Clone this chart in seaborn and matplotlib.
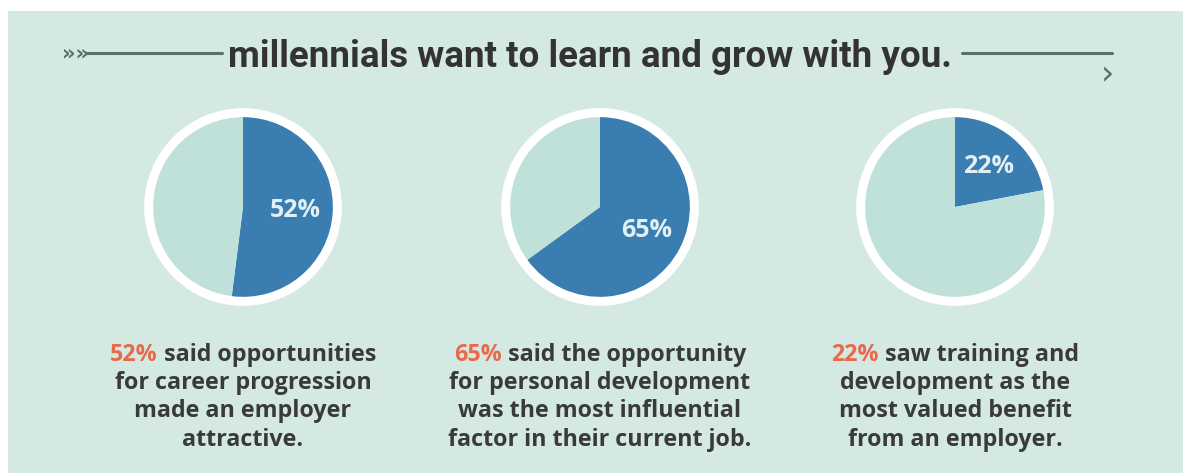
import matplotlib
matplotlib.use("Agg")
import matplotlib.pyplot as plt
from matplotlib.patches import Circle, Rectangle
from matplotlib.lines import Line2D
from matplotlib import font_manager
import seaborn as sns

# Survey results
shares = [52, 65, 22]
pct_labels = ["52%", "65%", "22%"]
captions = [
    ["said opportunities", "for career progression", "made an employer", "attractive."],
    ["said the opportunity", "for personal development", "was the most influential", "factor in their current job."],
    ["saw training and", "development as the", "most valued benefit", "from an employer."],
]
title = "millennials want to learn and grow with you."

BG = "#d5e9e3"
BLUE = "#3a7db0"
PALE = "#bfe1d9"
ORANGE = "#e8694c"
INK = "#3a3a3a"
RULE = "#56706a"

sns.set_theme(style="white")
plt.rcParams["font.family"] = ["Open Sans", "DejaVu Sans"]

W, H = 1183, 473
DPI = 100
fig = plt.figure(figsize=(W / DPI, H / DPI), dpi=DPI, facecolor="white")


def fx(px):
    return px / W


def fy(py):
    return 1 - py / H


# Panel background (white margin on top and left)
fig.patches.append(Rectangle((8 / W, 0), 1 - 8 / W, 1 - 11 / H, transform=fig.transFigure,
                             facecolor=BG, edgecolor="none", zorder=-5))

fig.canvas.draw()
renderer = fig.canvas.get_renderer()


def width_of(text, **kw):
    t = fig.text(0, 0, text, **kw)
    w = t.get_window_extent(renderer).width
    t.remove()
    return w


# Title with decorative rules, sized to span its slot
names = {f.name for f in font_manager.fontManager.ttflist}
title_family = ["Liberation Sans Narrow"] if "Liberation Sans Narrow" in names else ["Roboto", "DejaVu Sans"]
title_kw = dict(family=title_family, fontweight="bold", fontstretch="condensed")
tsize = 30 * 722 / width_of(title, fontsize=30, **title_kw)
fig.text(fx(590), fy(57), title, ha="center", va="center", fontsize=tsize,
         color="#333333", **title_kw)
fig.lines.append(Line2D([fx(86), fx(222)], [fy(53), fy(53)], transform=fig.transFigure,
                        color=RULE, lw=2.2))
fig.lines.append(Line2D([fx(962), fx(1112)], [fy(53), fy(53)], transform=fig.transFigure,
                        color=RULE, lw=2.2))
fig.text(fx(75), fy(53), "»»", ha="center", va="center", fontsize=15, color=RULE,
         family=["DejaVu Sans"], fontweight="bold")
fig.text(fx(1107), fy(75), "›", ha="center", va="center", fontsize=24, color=RULE,
         family=["DejaVu Sans"])

centers = [243, 600, 955]
cy = 207
box = 230  # px size of each pie axes

for cx, share, lab in zip(centers, shares, pct_labels):
    ax = fig.add_axes([fx(cx - box / 2), fy(cy + box / 2), box / W, box / H])
    ax.add_patch(Circle((0, 0), 1.10, facecolor="white", edgecolor="none", zorder=0))
    wedges, texts = ax.pie([share, 100 - share], colors=[BLUE, PALE], startangle=90,
                           counterclock=False, radius=1.0, labels=[lab, ""],
                           labeldistance=0.58,
                           textprops=dict(color="#e4eff4", fontsize=18, fontweight="bold"),
                           wedgeprops=dict(linewidth=0))
    for t in texts:
        t.set_ha("center")
        t.set_va("center")
    ax.set_xlim(-1.28, 1.28)
    ax.set_ylim(-1.28, 1.28)
    ax.set_aspect("equal")
    ax.axis("off")

# Captions: first line starts with a coloured percentage
cap_kw = dict(fontweight="bold")
cap_size = 14 * 268 / width_of("52% said opportunities", fontsize=14, **cap_kw)
line_y = [355, 383, 411, 440]
space_w = (width_of("a a", fontsize=cap_size, **cap_kw)
           - width_of("aa", fontsize=cap_size, **cap_kw))
for cx, lab, lines in zip(centers, pct_labels, captions):
    for i, (ly, txt) in enumerate(zip(line_y, lines)):
        if i == 0:
            wfull = width_of(lab + " " + txt, fontsize=cap_size, **cap_kw)
            x0 = cx - wfull / 2
            w1 = width_of(lab, fontsize=cap_size, **cap_kw)
            fig.text(fx(x0), fy(ly), lab, ha="left", va="center", fontsize=cap_size,
                     color=ORANGE, **cap_kw)
            fig.text(fx(x0 + w1 + space_w), fy(ly), txt, ha="left", va="center",
                     fontsize=cap_size, color=INK, **cap_kw)
        else:
            fig.text(fx(cx), fy(ly), txt, ha="center", va="center", fontsize=cap_size,
                     color=INK, **cap_kw)

fig.savefig("out.png", dpi=DPI, facecolor="white")
